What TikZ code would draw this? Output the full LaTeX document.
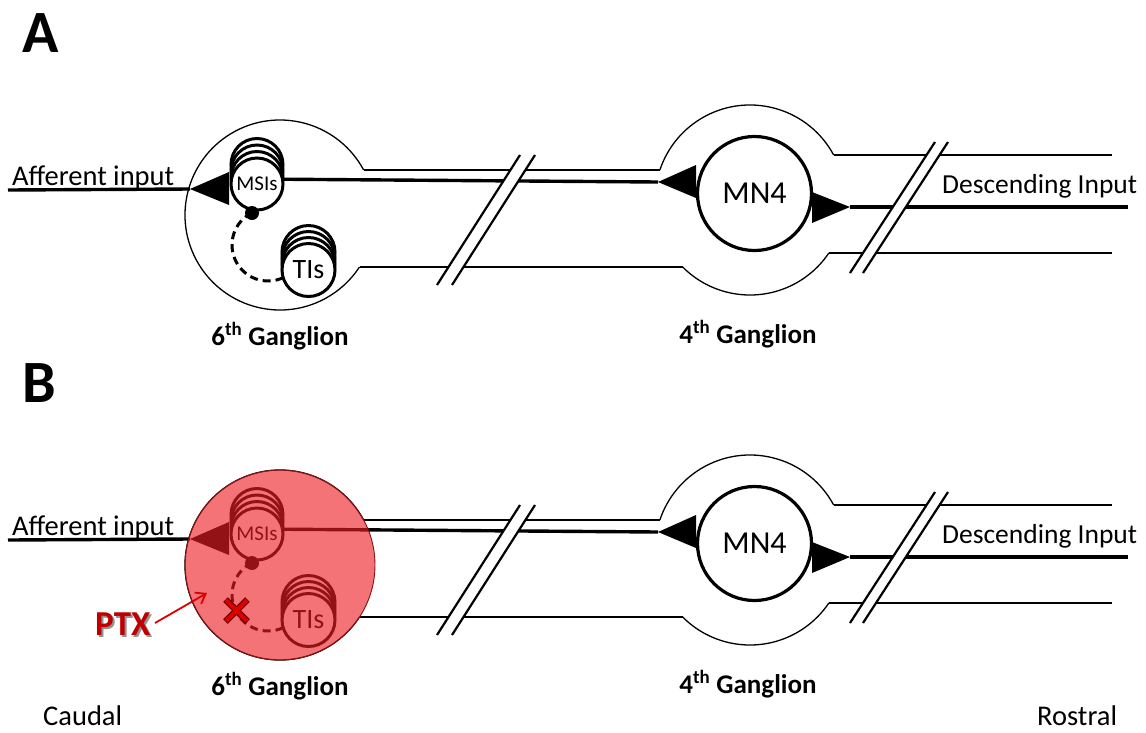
\documentclass[tikz,border=0pt]{standalone}
\usepackage{fontspec}
\setmainfont{Carlito}
\usetikzlibrary{arrows.meta,calc}
\definecolor{ptxred}{RGB}{236,30,36}
\definecolor{rimred}{RGB}{130,20,20}
\definecolor{xred}{RGB}{222,0,0}
\definecolor{xdark}{RGB}{110,0,0}
\definecolor{ptxtext}{RGB}{192,0,0}
\tikzset{
  nerve/.style={line width=1.3pt, draw=black},
  axon/.style={line width=3.4pt, draw=black},
  backcell/.style={line width=3pt, draw=black, fill=white},
  cellc/.style={circle, draw=black, line width=3pt, fill=white, inner sep=0pt},
  syntri/.style={fill=black},
  brk/.style={line width=2.2pt, draw=black},
  lbl/.style={font=\fontsize{28.5}{30}\selectfont, inner sep=0pt},
  glbl/.style={font=\bfseries\fontsize{27}{29}\selectfont, inner sep=0pt},
  panellbl/.style={font=\bfseries\fontsize{60}{64}\selectfont, inner sep=0pt, anchor=base west},
}
\newcommand{\drawpanel}{%
  % ganglion outlines and nerve
  \coordinate (g6) at (280,-215);
  \coordinate (g6t) at (363.66,-170);
  \coordinate (g6b) at (359.5,-267);
  \coordinate (g4) at (750,-200);
  \coordinate (g4tl) at (659.87,-170);
  \coordinate (g4tr) at (833.66,-155);
  \coordinate (g4bl) at (682.66,-267);
  \coordinate (g4br) at (828.84,-253);
  \coordinate (endt) at (1112,-155);
  \coordinate (endb) at (1112,-253);
  \draw[nerve] (g6t) arc[start angle=28.27, end angle=326.81, radius=95];
  \draw[nerve] (g4tr) arc[start angle=28.27, end angle=161.59, radius=95];
  \draw[nerve] (g4bl) arc[start angle=224.85, end angle=326.09, radius=95];
  \draw[nerve] (g6t) -- (g4tl);
  \draw[nerve] (g6b) -- (g4bl);
  \draw[nerve] (g4tr) -- (endt);
  \draw[nerve] (g4br) -- (endb);
  % MSIs stack
  \foreach \o in {19.5,13,6.5} {\draw[backcell] (257,-184+\o) circle[radius=26];}
  \node[cellc, minimum size=52pt, font=\fontsize{21}{22}\selectfont] (msi) at (257,-184) {MSIs};
  % TIs stack
  \foreach \o in {18,12,6} {\draw[backcell] (308.5,-270+\o) circle[radius=26.5];}
  \node[cellc, minimum size=53pt, font=\fontsize{28}{30}\selectfont] (tis) at (308.5,-270) {TIs};
  % MN4
  \node[circle, draw=black, line width=3.2pt, fill=white, minimum size=114pt, inner sep=0pt,
        font=\fontsize{32}{34}\selectfont] (mn4) at (754.5,-193.5) {MN4};
  % afferent input
  \coordinate (affin) at (8,-190);
  \coordinate (affap) at (190,-189);
  \draw[axon] (affin) -- (affap);
  \fill[syntri] (affap) -- (229,-172) -- (229,-205) -- cycle;
  % MSIs to MN4
  \coordinate (mnap) at (658,-182);
  \draw[axon] (msi.10) -- (mnap);
  \fill[syntri] (mnap) -- (696,-165) -- (696,-198) -- cycle;
  % MN4 output
  \coordinate (outap) at (850,-207);
  \coordinate (outend) at (1128,-207);
  \fill[syntri] (812,-192) -- (812,-223) -- (outap) -- cycle;
  \draw[axon] (outap) -- (outend);
  % MSI - TI connection
  \node[circle, fill=black, inner sep=0pt, minimum size=14pt] (syn) at (252,-213) {};
  \draw[line width=3pt, dash pattern=on 8pt off 5pt]
     (251.9,-212.8) arc[start angle=116.57, end angle=294.44, radius=36];
  % breaks
  \fill[white] (437,-285) -- (520,-155) -- (535,-155) -- (452,-285) -- cycle;
  \draw[brk] (437,-285) -- (520,-155);
  \draw[brk] (452,-285) -- (535,-155);
  \fill[white] (850,-273) -- (935,-142) -- (948,-142) -- (863,-273) -- cycle;
  \draw[brk] (850,-273) -- (935,-142);
  \draw[brk] (863,-273) -- (948,-142);
  % labels
  \node[lbl, anchor=base west] (afflbl) at (12,-185) {Afferent input};
  \node[lbl, font=\fontsize{27.5}{30}\selectfont, anchor=base west] (desclbl) at (942,-193) {Descending Input};
  \node[glbl, anchor=base] (g6lbl) at (280,-345) {6\textsuperscript{th} Ganglion};
  \node[glbl, anchor=base] (g4lbl) at (748,-343) {4\textsuperscript{th} Ganglion};
}
\begin{document}
\begin{tikzpicture}[x=1pt, y=1pt]
  \useasboundingbox (0,0) rectangle (1146,-732);
  \fill[white] (0,0) rectangle (1146,-732);
  \node[panellbl] (labA) at (22,-52) {A};
  \begin{scope}[name prefix=a-]
    \drawpanel
  \end{scope}
  \node[panellbl] (labB) at (22,-402) {B};
  \begin{scope}[shift={(0,-350)}, name prefix=b-]
    \drawpanel
  \end{scope}
  % PTX overlay
  \fill[ptxred, opacity=0.62] (b-g6) circle[radius=95];
  \draw[rimred, line width=0.9pt] (b-g6) circle[radius=95];
  % X mark
  \coordinate (xc) at (236.5,-610.5);
  \draw[xdark, line width=6.5pt] ($(xc)+(-11,11)$) -- ($(xc)+(11,-11)$);
  \draw[xdark, line width=6.5pt] ($(xc)+(-11,-11)$) -- ($(xc)+(11,11)$);
  \draw[xred, line width=4pt] ($(xc)+(-10.5,10.5)$) -- ($(xc)+(10.5,-10.5)$);
  \draw[xred, line width=4pt] ($(xc)+(-10.5,-10.5)$) -- ($(xc)+(10.5,10.5)$);
  % PTX label and arrow
  \node[font=\bfseries\fontsize{35}{37}\selectfont, inner sep=0pt, anchor=base west, text=black!70, opacity=0.6] (ptxsh) at (97,-637) {PTX};
  \node[font=\bfseries\fontsize{35}{37}\selectfont, inner sep=0pt, anchor=base west, text=ptxtext] (ptx) at (95,-635) {PTX};
  \coordinate (ptxtip) at (207,-593);
  \coordinate (ptxtail) at (155,-623);
  \draw[xred, line width=1.8pt, -{Straight Barb[length=9pt,width=13pt]}] (ptxtail) -- (ptxtip);
  % orientation
  \node[lbl, anchor=base west] (caudal) at (43,-725) {Caudal};
  \node[lbl, anchor=base west] (rostral) at (1037,-725) {Rostral};
\end{tikzpicture}
\end{document}
